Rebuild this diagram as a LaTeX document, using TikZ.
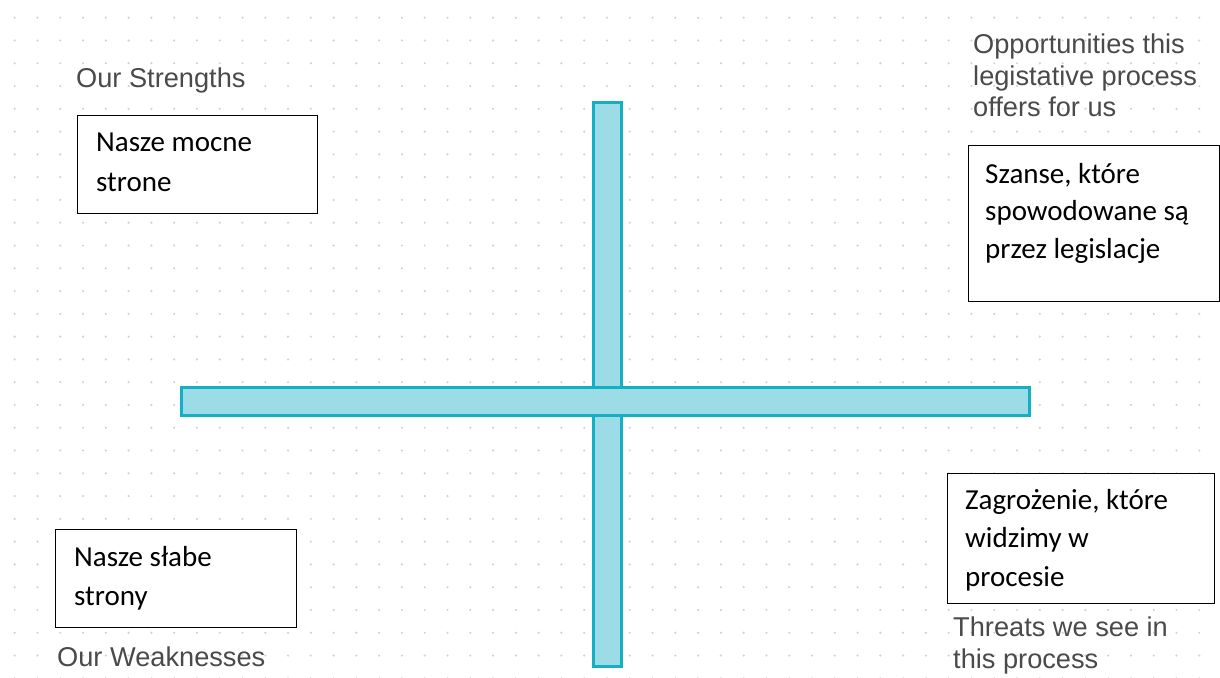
\documentclass[tikz,border=0pt]{standalone}
\usepackage{fontspec}
\setmainfont{Carlito}
\newfontfamily\labelfont{Liberation Sans}
\definecolor{barfill}{HTML}{9BDCE6}
\definecolor{barline}{HTML}{14AFC3}
\definecolor{dotgray}{HTML}{D2D2D2}
\definecolor{labelgray}{HTML}{4A4A4A}
\begin{document}
\begin{tikzpicture}[x=1pt,y=-1pt,
  box/.style={draw=black, line width=1.3pt, fill=white, inner sep=0pt, anchor=north west},
  boxtext/.style={anchor=base west, inner sep=0pt, align=left, font=\fontsize{29}{38.5}\selectfont},
  lbl/.style={anchor=base west, inner sep=0pt, align=left, text=labelgray, font=\labelfont\fontsize{27.2}{31.5}\selectfont},
  bar/.style={draw=barline, fill=barfill, line width=3.2pt}]
\useasboundingbox (0,0) rectangle (1220,677);
\fill[white] (0,0) rectangle (1220,677);
\foreach \i in {0,...,53} {
  \foreach \j in {0,...,29} {
    \fill[dotgray] (14.7+22.78*\i, 17.7+22.78*\j) circle (1.2pt);
  }
}
% cross
\draw[bar] (593.5,102.5) rectangle (621.5,666.5);
\draw[bar] (181.5,387.5) rectangle (1029.5,415.5);
% boxes
\node[box, minimum width=240pt, minimum height=98pt] (sbox) at (77,115) {};
\node[box, minimum width=251pt, minimum height=156pt] (obox) at (968,145) {};
\node[box, minimum width=241pt, minimum height=98pt] (wbox) at (55,529) {};
\node[box, minimum width=267pt, minimum height=130pt] (tbox) at (947,473) {};
% box texts (anchored at the baseline of the last line)
\node[boxtext] (stxt) at (96,191.7) {Nasze mocne\\[1.5pt]strone};
\node[boxtext] (otxt) at (985,258) {Szanse, które\\[-1pt]spowodowane są\\[-1pt]przez legislacje};
\node[boxtext] (wtxt) at (74,605) {Nasze słabe\\strony};
\node[boxtext] (ttxt) at (965,586) {Zagrożenie, które\\widzimy w\\procesie};
% labels
\node[lbl] (slbl) at (76,87) {Our Strengths};
\node[lbl] (olbl) at (973,116.7) {Opportunities this\\legistative process\\offers for us};
\node[lbl] (wlbl) at (57,666) {Our Weaknesses};
\node[lbl] (tlbl) at (953,668) {Threats we see in\\this process};
\end{tikzpicture}
\end{document}
